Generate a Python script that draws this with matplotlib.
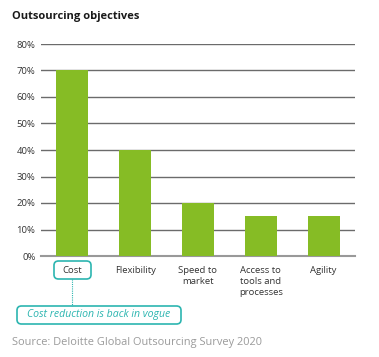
import matplotlib.pyplot as plt
from matplotlib.patches import FancyBboxPatch

# data
categories = ["Cost", "Flexibility", "Speed to\nmarket", "Access to\ntools and\nprocesses", "Agility"]
values = [70, 40, 20, 15, 15]
yticks = [0, 10, 20, 30, 40, 50, 60, 70, 80]

GREEN = "#86bc25"
TEAL = "#2cb5b0"
GRID = "#6b6b6b"
W, H = 379, 357

plt.rcParams["font.family"] = ["Open Sans", "DejaVu Sans"]

fig = plt.figure(figsize=(3.79, 3.57), dpi=100)
ax = fig.add_axes([41 / W, 101 / H, 314 / W, 212 / H])

x = range(len(categories))
ax.bar(x, values, width=0.51, color=GREEN, zorder=3)

ax.set_xlim(-0.5, len(categories) - 0.5)
ax.set_ylim(0, 80)
ax.set_yticks(yticks)
ax.set_yticklabels([f"{v}%" for v in yticks], fontsize=6.8, color="#333333")
ax.yaxis.grid(True, color=GRID, linewidth=1.0, zorder=0)
ax.tick_params(axis="y", length=0, pad=4)
ax.tick_params(axis="x", length=0, pad=7)
ax.set_xticks(list(x))
ax.set_xticklabels(categories, fontsize=6.8, color="#333333", va="top", linespacing=1.3)
for s in ["top", "right", "left"]:
    ax.spines[s].set_visible(False)
ax.spines["bottom"].set_color("#999999")
ax.spines["bottom"].set_linewidth(1.5)


def px_box(x0, y0, x1, y1):
    # rounded box given in pixel coords (top-left origin)
    return FancyBboxPatch((x0 / W, 1 - y1 / H), (x1 - x0) / W, (y1 - y0) / H,
                          boxstyle="round,pad=0,rounding_size=0.012",
                          transform=fig.transFigure, fc="none", ec=TEAL, lw=1.2)


# highlight box around "Cost"
fig.add_artist(px_box(54, 261, 91, 279))

# dotted connector and annotation
fig.add_artist(plt.Line2D([72 / W, 72 / W], [1 - 279 / H, 1 - 306 / H],
                          color=TEAL, lw=0.8, ls=(0, (1, 1))))
fig.add_artist(px_box(17, 306, 181, 324))
fig.text(99 / W, 1 - 315 / H, "Cost reduction is back in vogue", ha="center", va="center",
         fontsize=7.6, style="italic", color=TEAL)

fig.text(12 / W, 1 - 17 / H, "Outsourcing objectives", fontsize=8, fontweight="bold",
         color="#1a1a1a", va="center", ha="left")
fig.text(12 / W, 1 - 343 / H, "Source: Deloitte Global Outsourcing Survey 2020", fontsize=7.9,
         color="#9a9a9a", va="center", ha="left")

fig.savefig("out.png", dpi=100)
